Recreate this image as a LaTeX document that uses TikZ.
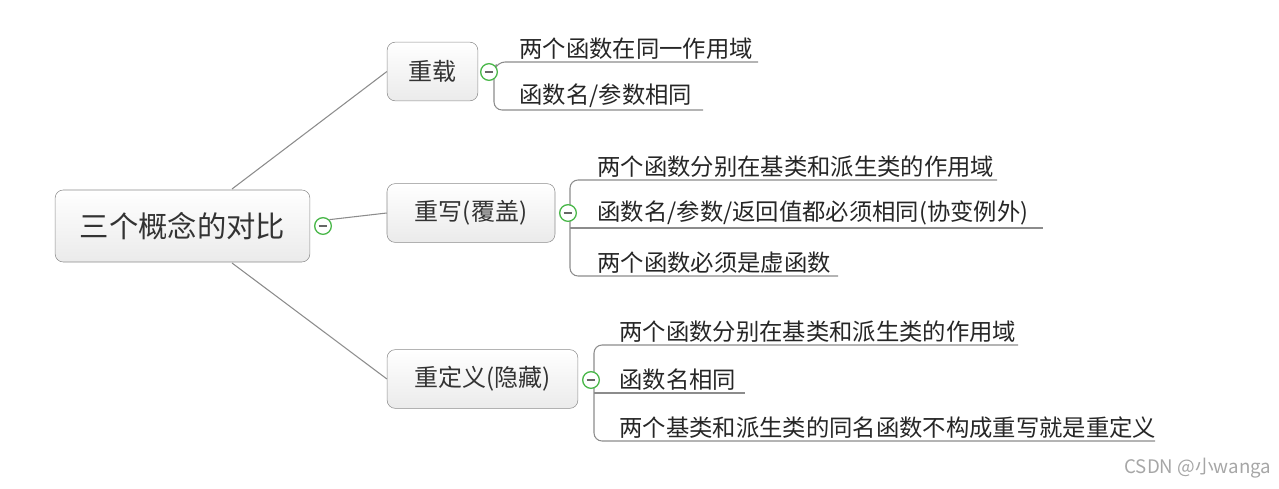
\documentclass[tikz,border=0pt]{standalone}
\usepackage{fontspec}
\setmainfont{Noto Sans CJK SC}
\begin{document}
\begin{tikzpicture}[x=0.75pt,y=-0.75pt,
 box/.style={draw=black!45,rounded corners=6pt,top color=white,bottom color=black!8,inner sep=0pt,text=black!80},
 leaf/.style={anchor=south west,inner sep=1pt,font=\fontsize{17.5}{20}\selectfont,text=black!85},
 ln/.style={draw=black!45,line width=0.8pt},
 icon/.style={circle,draw=green!60!black!70,fill=white,line width=1pt,minimum size=12.5pt,inner sep=0pt,path picture={\draw[black!60,line width=1.3pt](path picture bounding box.west)++(3pt,0)--++(6.5pt,0);}}]
\useasboundingbox (0,0) rectangle (1279,489);
\node[box,minimum width=191pt,minimum height=54pt,font=\fontsize{22}{26}\selectfont] (root) at (182.5,226) {三个概念的对比};
\node[box,minimum width=68pt,minimum height=44pt,font=\fontsize{18}{21}\selectfont] (a) at (432.5,71.5) {重载};
\node[box,minimum width=126pt,minimum height=44pt,font=\fontsize{18}{21}\selectfont] (b) at (471,213) {重写(覆盖)};
\node[box,minimum width=143pt,minimum height=44pt,font=\fontsize{18}{21}\selectfont] (c) at (482.5,379) {重定义(隐藏)};
\coordinate (r1) at (232,189); \coordinate (r3) at (232,263);
\draw[ln] (r1) -- (a.west);
\draw[ln] (r3) -- (c.west);
\node[icon] (ir) at (323,226) {};
\draw[ln] (ir.north east) -- (b.west);
% leaves A
\coordinate (a1) at (758,62); \coordinate (a2) at (703,110);
\draw[ln,rounded corners=6pt] (a1) -- (497,62) -- (494,72) -- (494,110) -- (a2);
\node[icon] (ia) at (489,72) {};
\node[leaf] at (518,61) {两个函数在同一作用域};
\node[leaf] at (518,109) {函数名/参数相同};
% leaves B
\coordinate (b1) at (997,180); \coordinate (b2) at (1043,228); \coordinate (b3) at (838,276);
\draw[ln,rounded corners=6pt] (b1) -- (570,180) -- (570,276) -- (b3);
\draw[ln] (570,228) -- (b2);
\node[icon] (ib) at (568,213) {};
\node[leaf] at (596,179) {两个函数分别在基类和派生类的作用域};
\node[leaf] at (596,227) {函数名/参数/返回值都必须相同(协变例外)};
\node[leaf] at (596,275) {两个函数必须是虚函数};
% leaves C
\coordinate (c1) at (1018,345); \coordinate (c2) at (745,393); \coordinate (c3) at (1155,441);
\draw[ln,rounded corners=6pt] (c1) -- (594,345) -- (594,441) -- (c3);
\draw[ln] (594,393) -- (c2);
\node[icon] (ic) at (591,380) {};
\node[leaf] at (618,344) {两个函数分别在基类和派生类的作用域};
\node[leaf] at (618,392) {函数名相同};
\node[leaf] at (618,440) {两个基类和派生类的同名函数不构成重写就是重定义};
\node[anchor=east,text=black!35,font=\fontsize{14}{16}\selectfont] (wm) at (1276,468) {CSDN @小wanga};
\end{tikzpicture}
\end{document}
